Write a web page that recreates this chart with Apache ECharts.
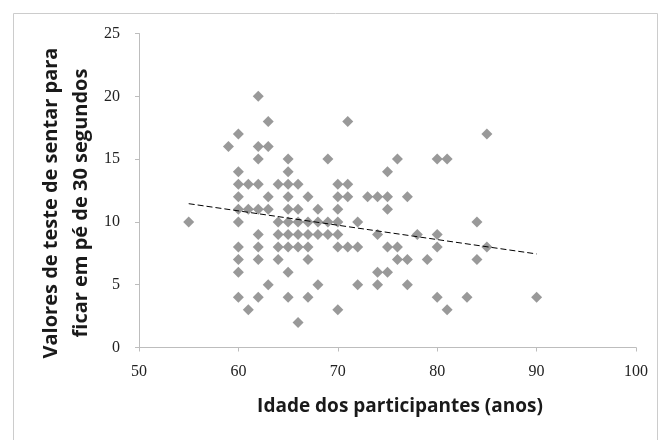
<!DOCTYPE html>
<html>
<head>
<meta charset="utf-8">
<script src="https://cdn.jsdelivr.net/npm/echarts@6/dist/echarts.min.js"></script>
<style>
  html, body { margin: 0; padding: 0; background: #fff; }
  #chart { width: 662px; height: 440px; }
</style>
</head>
<body>
<div id="chart"></div>
<script>
// Participant ages (x) and sit-to-stand scores (y), paired by index
var ages = [
  62,
  63, 71,
  60, 85,
  59, 62, 63,
  62, 65, 69, 76, 80, 81,
  60, 65, 75,
  60, 61, 62, 64, 65, 66, 70, 71,
  60, 63, 65, 67, 70, 71, 73, 74, 75, 77,
  60, 61, 62, 63, 65, 66, 68, 70, 75,
  55, 60, 64, 65, 66, 67, 68, 69, 70, 72, 84,
  62, 64, 65, 66, 67, 68, 69, 70, 74, 78, 80,
  60, 62, 64, 65, 66, 67, 70, 71, 72, 75, 76, 80, 85,
  60, 62, 64, 67, 76, 77, 79, 84,
  60, 65, 74, 75,
  63, 68, 72, 74, 77,
  60, 62, 65, 67, 80, 83, 90,
  61, 70, 81,
  66
];
var scores = [
  20,
  18, 18,
  17, 17,
  16, 16, 16,
  15, 15, 15, 15, 15, 15,
  14, 14, 14,
  13, 13, 13, 13, 13, 13, 13, 13,
  12, 12, 12, 12, 12, 12, 12, 12, 12, 12,
  11, 11, 11, 11, 11, 11, 11, 11, 11,
  10, 10, 10, 10, 10, 10, 10, 10, 10, 10, 10,
  9, 9, 9, 9, 9, 9, 9, 9, 9, 9, 9,
  8, 8, 8, 8, 8, 8, 8, 8, 8, 8, 8, 8, 8,
  7, 7, 7, 7, 7, 7, 7, 7,
  6, 6, 6, 6,
  5, 5, 5, 5, 5,
  4, 4, 4, 4, 4, 4, 4,
  3, 3, 3,
  2
];
// Linear trend line endpoints
var trendAges = [55, 90];
var trendScores = [11.45, 7.45];

var xTitle = 'Idade dos participantes (anos)';
var yTitleLines = ['Valores de teste de sentar para', 'ficar em pé de 30 segundos'];

var points = ages.map(function (a, i) { return [a, scores[i]]; });
var trend = trendAges.map(function (a, i) { return [a, trendScores[i]]; });

var chart = echarts.init(document.getElementById('chart'), null, { renderer: 'canvas' });
var serif = '"Liberation Serif", "Times New Roman", serif';
var sans = '"Open Sans", "Noto Sans", sans-serif';

chart.setOption({
  animation: false,
  backgroundColor: '#ffffff',
  grid: { left: 139, right: 26, top: 33.5, bottom: 92.5, containLabel: false },
  xAxis: {
    type: 'value', min: 50, max: 100, interval: 10,
    axisLine: { show: true, lineStyle: { color: '#bdbdbd', width: 1 } },
    axisTick: { show: true, length: 4, lineStyle: { color: '#bdbdbd' } },
    splitLine: { show: false },
    axisLabel: { color: '#222', fontFamily: serif, fontSize: 16, margin: 16 }
  },
  yAxis: {
    type: 'value', min: 0, max: 25, interval: 5,
    axisLine: { show: true, lineStyle: { color: '#bdbdbd', width: 1 } },
    axisTick: { show: true, length: 4, lineStyle: { color: '#bdbdbd' } },
    splitLine: { show: false },
    axisLabel: { color: '#222', fontFamily: serif, fontSize: 16, margin: 19 }
  },
  graphic: [
    { type: 'rect', left: 11, top: 11, shape: { width: 644, height: 440 },
      style: { fill: 'none', stroke: '#cccccc', lineWidth: 1 }, silent: true, z: -10 },
    { type: 'text', x: 400, y: 407, style: { text: xTitle, font: 'bold 19px ' + sans,
      fill: '#1a1a1a', textAlign: 'center', textVerticalAlign: 'middle' } },
    { type: 'text', x: 51, y: 203, rotation: Math.PI / 2, style: { text: yTitleLines[0], font: 'bold 20px ' + sans,
      fill: '#1a1a1a', textAlign: 'center', textVerticalAlign: 'middle' } },
    { type: 'text', x: 81, y: 203, rotation: Math.PI / 2, style: { text: yTitleLines[1], font: 'bold 20px ' + sans,
      fill: '#1a1a1a', textAlign: 'center', textVerticalAlign: 'middle' } }
  ],
  series: [
    {
      type: 'scatter', data: points, symbol: 'diamond', symbolSize: 11,
      itemStyle: { color: '#808080' }, z: 2
    },
    {
      type: 'line', data: trend, symbol: 'none', z: 3,
      lineStyle: { color: '#000', width: 1, type: [6, 3] }
    }
  ]
});
</script>
</body>
</html>
